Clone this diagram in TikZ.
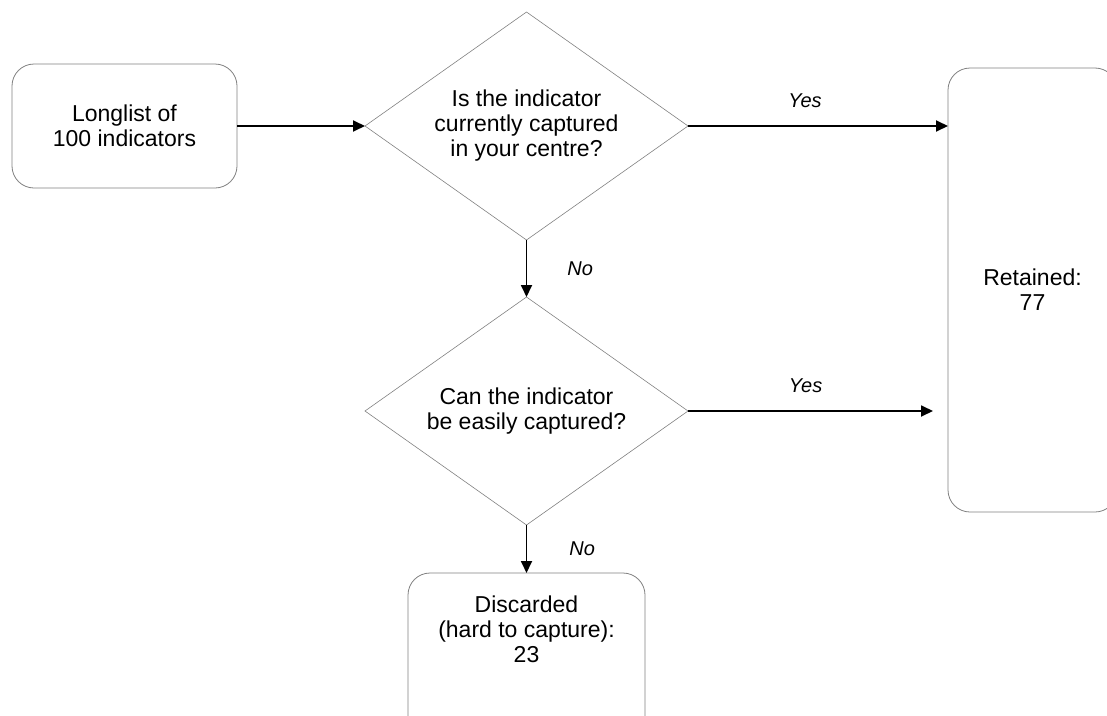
\documentclass[tikz,border=0pt]{standalone}
\usepackage{fontspec}
\setmainfont{Liberation Sans}
\usetikzlibrary{positioning}
\usetikzlibrary{shapes.geometric,arrows.meta}
\definecolor{myGray}{RGB}{128,128,128}

\begin{document}
\begin{tikzpicture}[x=1pt,y=-1pt,-{Triangle[length=12pt,width=11pt]},line width=1.8pt,
  node distance=50pt,
  round box/.style={rectangle,rounded corners=22pt,draw=myGray,line width=0.8pt,
  font=\fontsize{23}{25}\selectfont,align=center,outer sep=0pt},
  question/.style={diamond,aspect=1.42,draw=myGray,line width=0.6pt,inner sep=0pt,
  font=\fontsize{23}{25}\selectfont,align=center,minimum width=323pt,minimum height=228pt,outer sep=0pt},
  answer/.style={font=\fontsize{20}{24}\selectfont\itshape,inner sep=0pt}]

\useasboundingbox (0,0) rectangle (1107,715);

% The flow chart
  \node[round box,minimum width=225pt,minimum height=124pt] (Longlist) at (124.5,126) {Longlist of\\100 indicators};
  \node[question] (Captured) [right=128pt of Longlist] {Is the indicator\\currently captured\\in your centre?};
  \node[question] (Easy) [below=57pt of Captured] {Can the indicator\\be easily captured?};
  \node[round box,minimum width=237pt,anchor=north,inner ysep=23pt,text depth=75pt] (Discarded) at (526.5,573) {Discarded\\(hard to capture):\\23};
  \node[round box,minimum width=169pt,minimum height=444pt] (Retained) at (1032.5,290) {Retained:\\77};
  \coordinate (RetEnd) at ([xshift=-15pt]Easy.east -| Retained.west);
% The arrows between the nodes
  \draw (Longlist) -- (Captured.west);
  \draw (Captured.east) -- (Captured.east -| Retained.west) node[answer,pos=0.45,above=17pt] {Yes};
  \draw (Captured.south) -- (Easy.north) node[answer,midway,right=40pt] {No};
  \draw (Easy.east) -- (RetEnd) node[answer,pos=0.48,above=17pt] {Yes};
  \draw (Easy.south) -- (Discarded.north) node[answer,midway,right=42pt] {No};

\end{tikzpicture}
\end{document}
